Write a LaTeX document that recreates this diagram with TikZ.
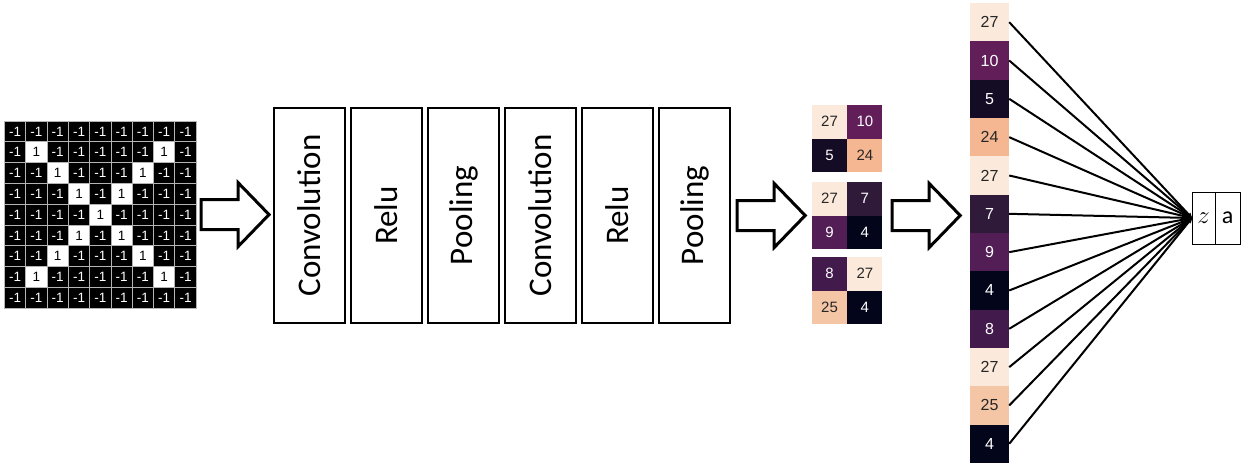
\documentclass[tikz,border=0pt]{standalone}
\usepackage{fontspec}
\usetikzlibrary{positioning, calc, arrows.meta}
\newfontfamily\layerfont{Carlito}
\newfontfamily\numfont{Liberation Sans}
\definecolor{gridgray}{HTML}{B4B4B4}
\definecolor{darktext}{HTML}{262626}
\definecolor{heat27}{HTML}{FBEADC}
\definecolor{heat25}{HTML}{F5C6A6}
\definecolor{heat24}{HTML}{F4B792}
\definecolor{heat10}{HTML}{611E59}
\definecolor{heat9}{HTML}{531D55}
\definecolor{heat8}{HTML}{421A4C}
\definecolor{heat7}{HTML}{2F1A3A}
\definecolor{heat5}{HTML}{140C25}
\definecolor{heat4}{HTML}{03051A}

\begin{document}
\begin{tikzpicture}[
        x=1pt, y=-1pt,
        pixel/.style={rectangle, draw=gridgray, line width=1pt, minimum width=21.3pt, minimum height=20.8pt, inner sep=0pt, font=\numfont\fontsize{13.5}{14}\selectfont},
        off/.style={pixel, fill=black, text=white},
        on/.style={pixel, fill=white, text=black},
        layer/.style={rectangle, draw, line width=1.2pt, minimum width=71pt, minimum height=215pt, inner sep=0pt, font=\layerfont\fontsize{33}{36}\selectfont},
        heat/.style={rectangle, minimum width=35pt, minimum height=33.5pt, inner sep=0pt, font=\numfont\fontsize{15}{15}\selectfont},
        vec/.style={rectangle, minimum width=39pt, minimum height=38.33pt, inner sep=0pt, font=\numfont\fontsize{16}{16}\selectfont},
        outbox/.style={rectangle, draw, line width=1pt, outer sep=0pt, minimum height=52pt, inner sep=0pt, font=\layerfont\fontsize{24}{24}\selectfont},
        v27/.style={fill=heat27, text=darktext},
        v25/.style={fill=heat25, text=darktext},
        v24/.style={fill=heat24, text=darktext},
        v10/.style={fill=heat10, text=white},
        v9/.style={fill=heat9, text=white},
        v8/.style={fill=heat8, text=white},
        v7/.style={fill=heat7, text=white},
        v5/.style={fill=heat5, text=white},
        v4/.style={fill=heat4, text=white},
        link/.style={line width=2pt, -{Stealth[length=5pt, width=5pt]}},
        blockarrow/.pic={\draw[line width=3pt, line join=miter] (-34,-15) -- (3,-15) -- (3,-32) -- (34,0) -- (3,32) -- (3,15) -- (-34,15) -- cycle;}
    ]
        \useasboundingbox (0,0) rectangle (1243,466);

        % Input image
        \foreach \r in {0,...,8} {
            \foreach \c in {0,...,8} {
                \pgfmathtruncatemacro{\isx}{((\r==\c) || (\r+\c==8)) && (\r>0) && (\r<8)}
                \ifnum\isx=1
                    \node (px-\r-\c) [on] at ({15.15+21.3*\c}, {131.4+20.8*\r}) {1};
                \else
                    \node (px-\r-\c) [off] at ({15.15+21.3*\c}, {131.4+20.8*\r}) {-1};
                \fi
            }
        }

        % Layers
        \node (conv1) [layer] at (309.5,215.5) {\rotatebox{90}{Convolution}};
        \node (relu1) [layer, right=4.8pt of conv1] {\rotatebox{90}{Relu}};
        \node (pool1) [layer, right=4.8pt of relu1] {\rotatebox{90}{Pooling}};
        \node (conv2) [layer, right=4.8pt of pool1] {\rotatebox{90}{Convolution}};
        \node (relu2) [layer, right=4.8pt of conv2] {\rotatebox{90}{Relu}};
        \node (pool2) [layer, right=4.8pt of relu2] {\rotatebox{90}{Pooling}};

        % Feature maps
        \foreach \m/\y/\va/\vb/\vc/\vd in {1/121.75/27/10/5/24, 2/198.75/27/7/9/4, 3/273.75/8/27/25/4} {
            \node (m\m-a) [heat, v\va] at (829.5,\y) {\va};
            \node (m\m-b) [heat, v\vb, right=0pt of m\m-a] {\vb};
            \node (m\m-c) [heat, v\vc, below=0pt of m\m-a] {\vc};
            \node (m\m-d) [heat, v\vd, right=0pt of m\m-c] {\vd};
        }

        % Flattened vector
        \foreach \v [count=\k] in {27,10,5,24,27,7,9,4,8,27,25,4}
            \node (vec-\k) [vec, v\v] at (989.5, {3+38.33*(\k-0.5)}) {\v};

        % Output
        \node (out-z) [outbox, minimum width=23pt] at (1203.5,218) {\fontsize{28}{28}\selectfont$z$};
        \node (out-a) [outbox, minimum width=25pt, right=0pt of out-z] {a};

        % Connecting Arrows
        \pic at ($(px-4-8.east)!0.5!(px-4-8.east -| conv1.west)$) {blockarrow};
        \pic at ($(pool2.east)!0.5!(pool2.east -| m2-a.west)$) {blockarrow};
        \pic at ($(pool2.east -| m2-b.east)!0.5!(pool2.east -| vec-1.west)$) {blockarrow};
        \foreach \k in {1,...,12}
            \draw [link] (vec-\k.east) -- (out-z.west);
    \end{tikzpicture}
\end{document}
